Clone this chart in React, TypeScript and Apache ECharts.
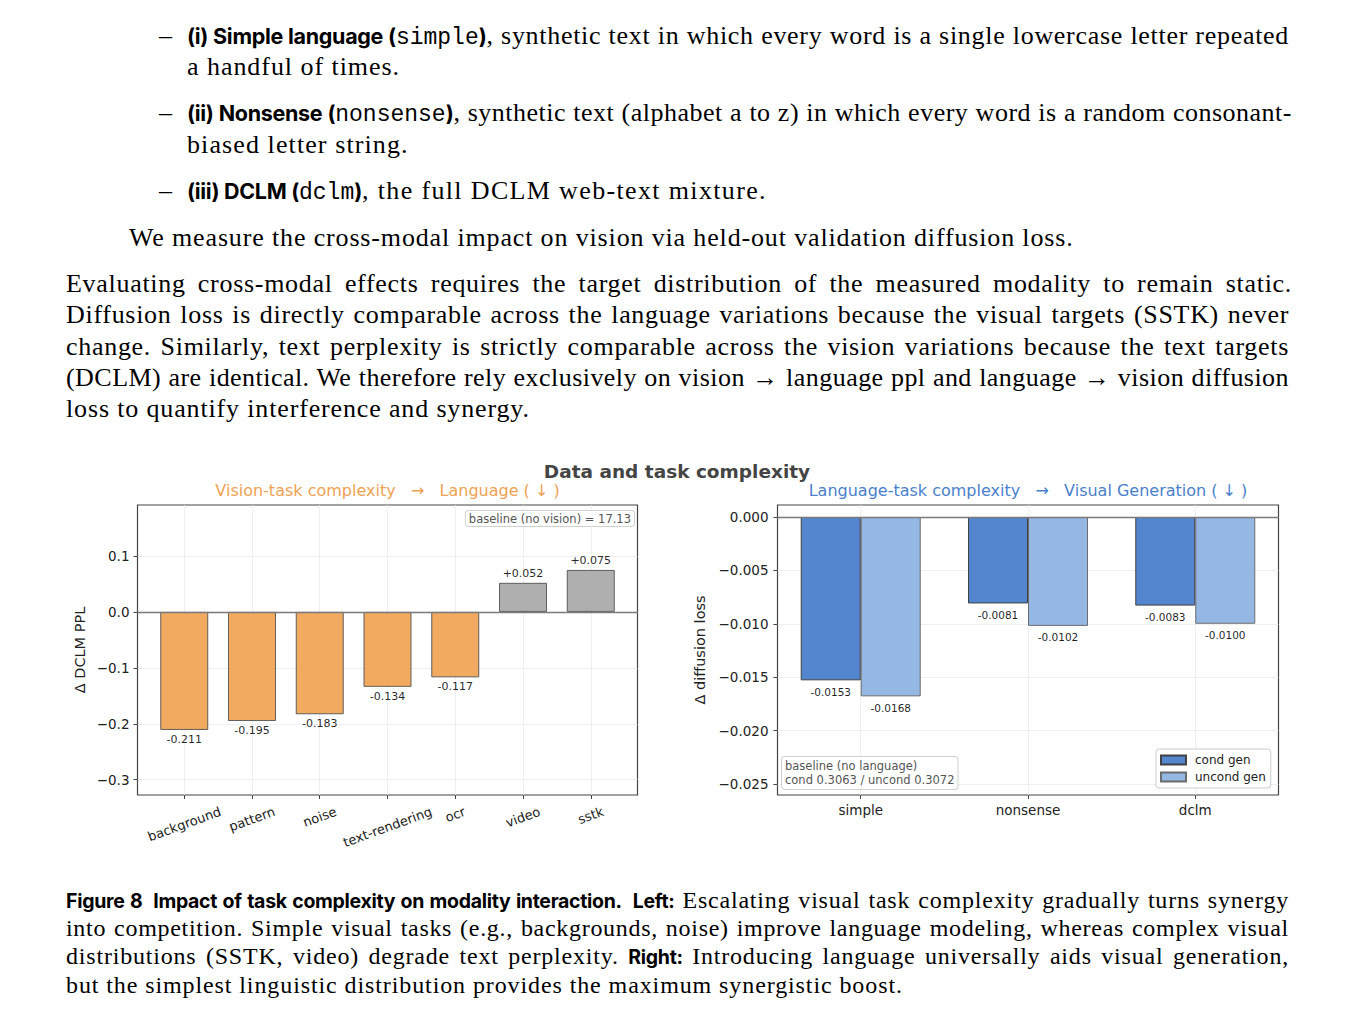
import React, { useEffect, useRef } from "react";
import * as echarts from "echarts";

// ---- data ----
const visionTasks = ["background", "pattern", "noise", "text-rendering", "ocr", "video", "sstk"];
const deltaPpl = [-0.211, -0.195, -0.183, -0.134, -0.117, 0.052, 0.075];
const pplTicks = [-0.3, -0.2, -0.1, 0, 0.1];
const langTasks = ["simple", "nonsense", "dclm"];
const condGen = [-0.0153, -0.0081, -0.0083];
const uncondGen = [-0.0168, -0.0102, -0.01];
const diffTicks = [-0.025, -0.02, -0.015, -0.01, -0.005, 0];

const FONT = "DejaVu Sans";
const SERIF = "'Liberation Serif', serif";
const SANS_B = "Inter, 'Noto Sans', sans-serif";
const MONO = "'Liberation Mono', monospace";

const minus = (s: string) => s.replace("-", "\u2212");

function Line(props: { top: number; left: number; width?: number; justify?: boolean; size?: number; lh?: number; ls?: number; children: any }) {
  const size = props.size ?? 26;
  const lh = props.lh ?? 30;
  return (
    <div
      style={{
        position: "absolute",
        top: props.top,
        left: props.left,
        width: props.width ?? 1200,
        fontFamily: SERIF,
        fontSize: size,
        letterSpacing: (props.ls ?? 0.7) + "px",
        lineHeight: lh + "px",
        whiteSpace: "nowrap",
        textAlign: props.justify ? "justify" : "left",
        textAlignLast: props.justify ? "justify" : "left",
        color: "#000",
      } as any}
    >
      {props.children}
    </div>
  );
}

const B = (p: { children: any; size?: number }) => (
  <span style={{ fontFamily: SANS_B, fontWeight: 700, fontSize: p.size ?? 21.5, letterSpacing: "-0.3px" }}>{p.children}</span>
);
const T = (p: { children: any }) => <span style={{ fontFamily: MONO, fontSize: 23, letterSpacing: "0px" }}>{p.children}</span>;

export default function App() {
  const ref = useRef<HTMLDivElement>(null);

  useEffect(() => {
    if (!ref.current) return;
    const chart = echarts.init(ref.current, null, { renderer: "svg" });

    // measure x labels for rotated centre placement (matplotlib-like ha=center)
    const cv = document.createElement("canvas");
    const ctx = cv.getContext("2d")!;
    const xFs = 13;
    ctx.font = `${xFs}px "${FONT}"`;
    const th = (20 * Math.PI) / 180;
    const rich: any = {};
    visionTasks.forEach((t, i) => {
      const w = ctx.measureText(t).width;
      const D = (w * Math.sin(th)) / 2;
      rich["r" + i] = {
        fontSize: xFs,
        fontFamily: FONT,
        color: "#222",
        padding: [2 * D * Math.cos(th), 2 * D * Math.sin(th), 0, 0],
      };
    });

    const split = { show: true, lineStyle: { color: "#ebebeb", width: 0.8, type: "solid" } };
    const zeroLine = { color: "#7a7a7a", width: 1.4, opacity: 1, type: "solid" as const };
    const noLine = { show: false, onZero: false };
    const xTicks0 = visionTasks.map((_, i) => i);
    const xTicks1 = langTasks.map((_, i) => i);

    const option: any = {
      animation: false,
      backgroundColor: "transparent",
      textStyle: { fontFamily: FONT },
      grid: [
        { left: 137.5, top: 505, width: 500, height: 290, show: true, borderColor: "#444", borderWidth: 1.2, backgroundColor: "transparent" },
        { left: 777.5, top: 505, width: 501, height: 290, show: true, borderColor: "#444", borderWidth: 1.2, backgroundColor: "transparent" },
      ],
      xAxis: [
        {
          type: "value",
          gridIndex: 0,
          position: "bottom",
          min: -0.69,
          max: 6.69,
          axisLine: noLine,
          splitLine: { ...split, customValues: xTicks0 },
          axisTick: { show: true, customValues: xTicks0, length: 4, lineStyle: { color: "#444" } },
          axisLabel: {
            customValues: xTicks0,
            rotate: 20,
            align: "center",
            verticalAlign: "middle",
            margin: 16,
            formatter: (v: number) => `{r${Math.round(v)}|${visionTasks[Math.round(v)]}}`,
            rich,
          },
        },
        {
          type: "value",
          gridIndex: 1,
          position: "bottom",
          min: -0.4976,
          max: 2.4976,
          axisLine: noLine,
          splitLine: { ...split, customValues: xTicks1 },
          axisTick: { show: true, customValues: xTicks1, length: 4, lineStyle: { color: "#444" } },
          axisLabel: {
            customValues: xTicks1,
            margin: 8,
            fontSize: 13.5,
            color: "#222",
            fontFamily: FONT,
            formatter: (v: number) => langTasks[Math.round(v)],
          },
        },
      ],
      yAxis: [
        {
          type: "value",
          gridIndex: 0,
          position: "left",
          min: -0.3273,
          max: 0.1911,
          axisLine: noLine,
          splitLine: { ...split, customValues: pplTicks },
          axisTick: { show: true, customValues: pplTicks, length: 4, lineStyle: { color: "#444" } },
          axisLabel: {
            customValues: pplTicks,
            margin: 8,
            fontSize: 13.5,
            color: "#222",
            fontFamily: FONT,
            formatter: (v: number) => minus(v.toFixed(1)),
          },
          name: "\u0394 DCLM PPL",
          nameLocation: "middle",
          nameGap: 50,
          nameTextStyle: { fontSize: 14.5, color: "#222", fontFamily: FONT },
        },
        {
          type: "value",
          gridIndex: 1,
          position: "left",
          min: -0.02604,
          max: 0.001123,
          axisLine: noLine,
          splitLine: { ...split, customValues: diffTicks },
          axisTick: { show: true, customValues: diffTicks, length: 4, lineStyle: { color: "#444" } },
          axisLabel: {
            customValues: diffTicks,
            margin: 9,
            fontSize: 13.5,
            color: "#222",
            fontFamily: FONT,
            formatter: (v: number) => minus(v.toFixed(3)),
          },
          name: "\u0394 diffusion loss",
          nameLocation: "middle",
          nameGap: 70,
          nameTextStyle: { fontSize: 14.5, color: "#222", fontFamily: FONT },
        },
      ],
      legend: {
        left: 1156,
        top: 749,
        orient: "vertical",
        data: ["cond gen", "uncond gen"],
        icon: "rect",
        itemWidth: 25,
        itemHeight: 9,
        itemGap: 5,
        textStyle: { fontSize: 12, color: "#222", fontFamily: FONT, padding: [0, 0, 0, 4] },
        borderColor: "#ccc",
        borderWidth: 1,
        borderRadius: 3,
        padding: [5, 5, 5, 4],
        backgroundColor: "#fff",
      },
      series: [
        {
          type: "bar",
          name: "ppl",
          xAxisIndex: 0,
          yAxisIndex: 0,
          barWidth: 48,
          itemStyle: { borderColor: "#555", borderWidth: 1, opacity: 0.92 },
          data: deltaPpl.map((v, i) => ({
            value: [i, v],
            itemStyle: { color: v < 0 ? "#F0A352" : "#A8A8A8" },
            label: { position: v < 0 ? "bottom" : "top" },
          })),
          label: {
            show: true,
            distance: 4,
            fontSize: 11,
            color: "#111",
            fontFamily: FONT,
            formatter: (p: any) => {
              const v = p.value[1];
              return (v > 0 ? "+" : "") + v.toFixed(3);
            },
          },
          markLine: {
            silent: true,
            symbol: "none",
            label: { show: false },
            lineStyle: zeroLine,
            data: [{ yAxis: 0 }],
          },
        },
        {
          type: "bar",
          name: "cond gen",
          xAxisIndex: 1,
          yAxisIndex: 1,
          barWidth: 60,
          barGap: "0%",
          itemStyle: { color: "#4A7FCC", borderColor: "#3a3a3a", borderWidth: 1, opacity: 0.95 },
          data: condGen.map((v, i) => [i, v]),
          label: {
            show: true,
            position: "bottom",
            distance: 6,
            fontSize: 10.5,
            color: "#111",
            fontFamily: FONT,
            formatter: (p: any) => p.value[1].toFixed(4),
          },
          markLine: {
            silent: true,
            symbol: "none",
            label: { show: false },
            lineStyle: zeroLine,
            data: [{ yAxis: 0 }],
          },
        },
        {
          type: "bar",
          name: "uncond gen",
          xAxisIndex: 1,
          yAxisIndex: 1,
          barWidth: 60,
          barGap: "0%",
          itemStyle: { color: "#8FB3E3", borderColor: "#666", borderWidth: 1, opacity: 0.95 },
          data: uncondGen.map((v, i) => [i, v]),
          label: {
            show: true,
            position: "bottom",
            distance: 6,
            fontSize: 10.5,
            color: "#111",
            fontFamily: FONT,
            formatter: (p: any) => p.value[1].toFixed(4),
          },
        },
      ],
      graphic: [
        {
          type: "text",
          x: 677,
          y: 471,
          style: { text: "Data and task complexity", align: "center", verticalAlign: "middle", fontSize: 18.5, fontWeight: "bold", fontFamily: FONT, fill: "#444" },
        },
        {
          type: "text",
          x: 387.5,
          y: 490,
          style: { text: "Vision-task complexity   \u2192   Language ( \u2193 )", align: "center", verticalAlign: "middle", fontSize: 16, fontFamily: FONT, fill: "#F0A254" },
        },
        {
          type: "text",
          x: 1028,
          y: 490,
          style: { text: "Language-task complexity   \u2192   Visual Generation ( \u2193 )", align: "center", verticalAlign: "middle", fontSize: 16, fontFamily: FONT, fill: "#4A7FCC" },
        },
        {
          type: "text",
          x: 634,
          y: 518.5,
          z: 10,
          style: {
            text: "baseline (no vision) = 17.13",
            align: "right",
            verticalAlign: "middle",
            fontSize: 11.5,
            fontFamily: FONT,
            fill: "#555",
            backgroundColor: "#fff",
            borderColor: "#d0d0d0",
            borderWidth: 1,
            borderRadius: 3,
            padding: [2, 3, 1, 3],
          },
        },
        {
          type: "text",
          x: 782,
          y: 773,
          z: 10,
          style: {
            text: "baseline (no language)\ncond 0.3063 / uncond 0.3072",
            align: "left",
            verticalAlign: "middle",
            fontSize: 11.5,
            lineHeight: 14,
            fontFamily: FONT,
            fill: "#555",
            backgroundColor: "#fff",
            borderColor: "#d0d0d0",
            borderWidth: 1,
            borderRadius: 3,
            padding: [2, 3, 2, 3],
          },
        },
      ],
    };
    chart.setOption(option);
    return () => chart.dispose();
  }, []);

  const cap = { size: 24, lh: 28, ls: 0.8 };
  const free = 0.85;

  return (
    <div style={{ position: "absolute", left: 0, top: 0, width: 1357, height: 1011, background: "#fff", overflow: "hidden" }}>
      <div ref={ref} style={{ position: "absolute", left: 0, top: 0, width: 1357, height: 1011 }} />
      <div style={{ position: "absolute", left: 0, top: 0, width: 1357, height: 1011, pointerEvents: "none" }}>
        <Line top={21} left={159} width={30}>{"\u2013"}</Line>
        <Line top={21} left={187} width={1102} justify>
          <B>(i) Simple language (</B><T>simple</T><B>)</B>, synthetic text in which every word is a single lowercase letter repeated
        </Line>
        <Line top={52} left={187} ls={0.95}>a handful of times.</Line>
        <Line top={98} left={159} width={30}>{"\u2013"}</Line>
        <Line top={98} left={187} width={1105} justify ls={0.5}>
          <B>(ii) Nonsense (</B><T>nonsense</T><B>)</B>, synthetic text (alphabet a to z) in which every word is a random consonant-
        </Line>
        <Line top={130} left={187} ls={1.1}>biased letter string.</Line>
        <Line top={176} left={159} width={30}>{"\u2013"}</Line>
        <Line top={176} left={187} ls={1.35}>
          <B>(iii) DCLM (</B><T>dclm</T><B>)</B>, the full DCLM web-text mixture.
        </Line>
        <Line top={223} left={129} ls={free}>We measure the cross-modal impact on vision via held-out validation diffusion loss.</Line>
        <Line top={269} left={66} width={1226} justify>Evaluating cross-modal effects requires the target distribution of the measured modality to remain static.</Line>
        <Line top={300} left={66} width={1223} justify>Diffusion loss is directly comparable across the language variations because the visual targets (SSTK) never</Line>
        <Line top={332} left={66} width={1223} justify>change. Similarly, text perplexity is strictly comparable across the vision variations because the text targets</Line>
        <Line top={363} left={66} width={1223} justify ls={0.45}>(DCLM) are identical. We therefore rely exclusively on vision {"\u2192"} language ppl and language {"\u2192"} vision diffusion</Line>
        <Line top={394} left={66} ls={free}>loss to quantify interference and synergy.</Line>

        <Line top={886} left={66} width={1223} justify {...cap}>
          <B size={19.5}>Figure 8{"\u00a0\u00a0"}Impact of task complexity on modality interaction.{"\u00a0\u00a0"}Left:</B> Escalating visual task complexity gradually turns synergy
        </Line>
        <Line top={914} left={66} width={1223} justify {...cap} ls={0.7}>into competition. Simple visual tasks (e.g., backgrounds, noise) improve language modeling, whereas complex visual</Line>
        <Line top={942} left={66} width={1223} justify {...cap}>
          distributions (SSTK, video) degrade text perplexity. <B size={19.5}>Right:</B> Introducing language universally aids visual generation,
        </Line>
        <Line top={971} left={66} {...cap} ls={0.9}>but the simplest linguistic distribution provides the maximum synergistic boost.</Line>
      </div>
    </div>
  );
}
